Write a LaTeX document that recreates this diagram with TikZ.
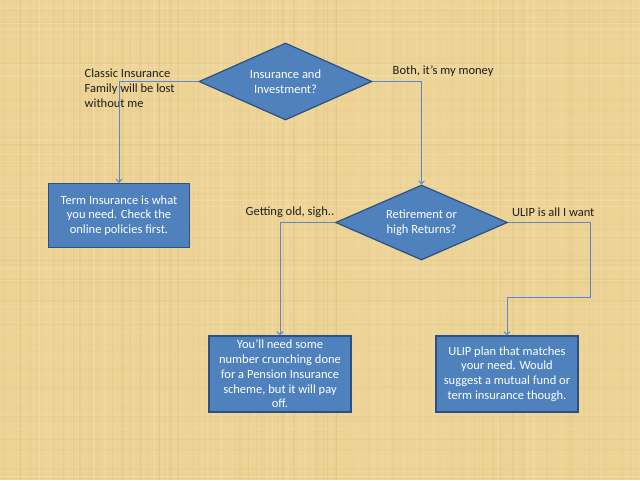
\documentclass[tikz,border=0pt]{standalone}
\usepackage{fontspec}
\setmainfont{Carlito}
\usetikzlibrary{shapes.geometric,arrows.meta}
\definecolor{paper}{RGB}{237,212,150}
\definecolor{paperlight}{RGB}{246,230,188}
\definecolor{paperdark}{RGB}{216,186,120}
\definecolor{boxfill}{RGB}{79,129,189}
\definecolor{boxline}{RGB}{45,80,130}
\definecolor{conn}{RGB}{95,135,200}
\definecolor{labeltext}{RGB}{30,30,30}
\tikzset{
  decision/.style={diamond, aspect=2.3, draw=boxline, line width=1.2pt, fill=boxfill, text=white,
    align=center, inner sep=0pt, font=\fontsize{12.5}{15}\selectfont},
  outcome/.style={rectangle, draw=boxline, line width=1.5pt, fill=boxfill, text=white,
    align=center, inner sep=0pt, font=\fontsize{12.5}{14.8}\selectfont},
  answer/.style={text=labeltext, align=left, inner sep=0pt, font=\fontsize{12.5}{15}\selectfont},
  connector/.style={draw=conn, line width=0.9pt, -{Straight Barb[length=3pt,width=6pt]}}
}
\begin{document}
\begin{tikzpicture}[x=1pt,y=-1pt]
  \useasboundingbox (0,0) rectangle (640,480);
  % papyrus background
  \fill[paper] (0,0) rectangle (640,480);
  \pgfmathsetseed{7}
  \foreach \i in {1,...,220}{
    \pgfmathsetmacro{\xx}{rnd*640}
    \pgfmathsetmacro{\op}{0.08+rnd*0.22}
    \pgfmathsetmacro{\lw}{0.4+rnd*1.2}
    \pgfmathparse{rnd<0.55 ? 1 : 0}
    \ifnum\pgfmathresult=1
      \draw[paperlight, opacity=\op, line width=\lw pt] (\xx,0) -- (\xx,480);
    \else
      \draw[paperdark, opacity=\op, line width=\lw pt] (\xx,0) -- (\xx,480);
    \fi
  }
  \foreach \i in {1,...,140}{
    \pgfmathsetmacro{\yy}{rnd*480}
    \pgfmathsetmacro{\op}{0.06+rnd*0.18}
    \pgfmathsetmacro{\lw}{0.4+rnd*1.0}
    \pgfmathparse{rnd<0.55 ? 1 : 0}
    \ifnum\pgfmathresult=1
      \draw[paperlight, opacity=\op, line width=\lw pt] (0,\yy) -- (640,\yy);
    \else
      \draw[paperdark, opacity=\op, line width=\lw pt] (0,\yy) -- (640,\yy);
    \fi
  }

  % nodes
  \node[decision, minimum width=173pt, minimum height=77pt] (d1) at (285.5,81.5)
    {Insurance and\\Investment?};
  \node[decision, minimum width=172pt, minimum height=75pt] (d2) at (421.5,222.5)
    {Retirement or\\high Returns?};
  \node[outcome, minimum width=141pt, minimum height=64pt] (b1) at (119,215.5)
    {Term Insurance is what\\you need. Check the\\online policies first.};
  \node[outcome, minimum width=142pt, minimum height=76pt] (b3) at (280,374)
    {You’ll need some\\number crunching done\\for a Pension Insurance\\scheme, but it will pay\\off.};
  \node[outcome, minimum width=142pt, minimum height=76pt] (b4) at (507,374)
    {ULIP plan that matches\\your need. Would\\suggest a mutual fund or\\term insurance though.};

  % answer labels
  \node[answer, anchor=west] (l1) at (84.5,88) {Classic Insurance\\Family will be lost\\without me};
  \node[answer, anchor=west] (l2) at (392.5,71) {Both, it’s my money};
  \node[answer, anchor=west] (l3) at (245.5,212) {Getting old, sigh..};
  \node[answer, anchor=west] (l4) at (512,212) {ULIP is all I want};

  % connectors
  \coordinate (k) at (590,297);
  \draw[connector] (d1.west) -| (b1.north);
  \draw[connector] (d1.east) -| (d2.north);
  \draw[connector] (d2.west) -| (b3.north);
  \draw[connector] (d2.east) -| (k) -| (b4.north);
\end{tikzpicture}
\end{document}
